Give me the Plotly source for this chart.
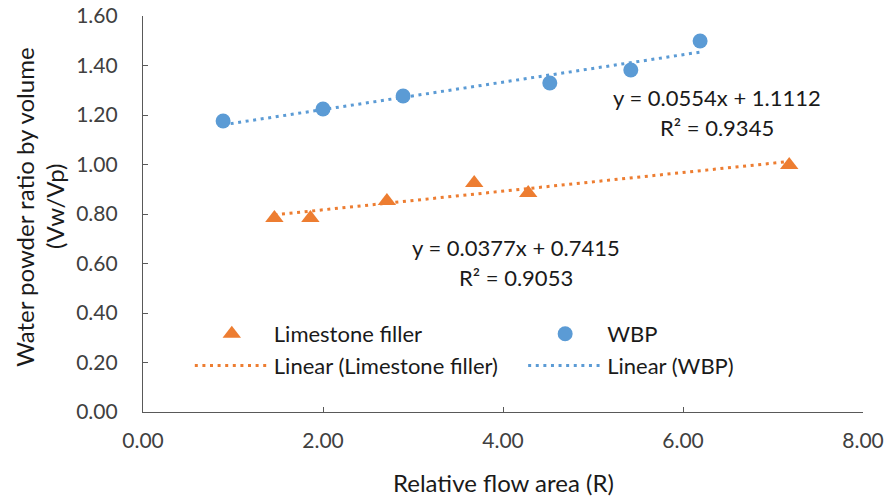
import plotly.graph_objects as go

# Data
lime_x = [1.46, 1.86, 2.71, 3.68, 4.28, 7.18]
lime_y = [0.784, 0.784, 0.853, 0.925, 0.885, 0.998]
wbp_x = [0.89, 2.00, 2.89, 4.52, 5.42, 6.19]
wbp_y = [1.176, 1.224, 1.277, 1.329, 1.382, 1.499]

# Trendline equations shown on the chart
lime_slope, lime_icpt = 0.0377, 0.7415
wbp_slope, wbp_icpt = 0.0554, 1.1112

x_ticks = [0, 2, 4, 6, 8]
y_ticks = [0, 0.2, 0.4, 0.6, 0.8, 1.0, 1.2, 1.4, 1.6]

ORANGE = "#ED7D31"
BLUE = "#5B9BD5"
FONT = "Lato"
TXT = "#404040"
DARK = "#1a1a1a"

lime_tx = [min(lime_x), max(lime_x)]
lime_ty = [lime_slope * v + lime_icpt for v in lime_tx]
wbp_tx = [min(wbp_x), max(wbp_x)]
wbp_ty = [wbp_slope * v + wbp_icpt for v in wbp_tx]

fig = go.Figure()
dash = "3px,4.6px"
fig.add_trace(go.Scatter(x=lime_tx, y=lime_ty, mode="lines", name="Linear (Limestone filler)",
                         line=dict(color=ORANGE, width=3, dash=dash), legend="legend",
                         legendrank=2, legendgroup="b"))
fig.add_trace(go.Scatter(x=wbp_tx, y=wbp_ty, mode="lines", name="Linear (WBP)",
                         line=dict(color=BLUE, width=3, dash=dash), legend="legend2",
                         legendrank=2, legendgroup="d"))
fig.add_trace(go.Scatter(x=lime_x, y=lime_y, mode="markers", name="Limestone filler",
                         marker=dict(symbol="triangle-up", size=16, color=ORANGE), legend="legend",
                         legendrank=1, legendgroup="a"))
fig.add_trace(go.Scatter(x=wbp_x, y=wbp_y, mode="markers", name="WBP",
                         marker=dict(symbol="circle", size=15, color=BLUE), legend="legend2",
                         legendrank=1, legendgroup="c"))

axis_common = dict(
    showgrid=False, zeroline=False, showline=True, linecolor="#595959", linewidth=1.3,
    ticks="inside", ticklen=5, tickcolor="#595959", tickwidth=1.3, automargin=False,
    tickfont=dict(family=FONT, size=21, color=TXT), tickformat=".2f",
)
fig.update_xaxes(range=[0, 8], tickvals=x_ticks, ticklabelstandoff=10, **axis_common)
fig.update_yaxes(range=[0, 1.6], tickvals=y_ticks, ticklabelstandoff=20, **axis_common)

# equations
ann_font = dict(family=FONT, size=22, color=DARK)
fig.add_annotation(x=6.38, y=1.272, text="y = 0.0554x + 1.1112", showarrow=False, font=ann_font)
fig.add_annotation(x=6.38, y=1.150, text="R² = 0.9345", showarrow=False, font=ann_font)
fig.add_annotation(x=4.14, y=0.666, text="y = 0.0377x + 0.7415", showarrow=False, font=ann_font)
fig.add_annotation(x=4.14, y=0.544, text="R² = 0.9053", showarrow=False, font=ann_font)

# axis titles
title_font = dict(family=FONT, size=24, color=DARK)
fig.add_annotation(xref="paper", yref="paper", x=0.5, y=-0.179, yanchor="middle",
                   text="Relative flow area (R)", showarrow=False, font=title_font)
fig.add_annotation(xref="paper", yref="paper", x=-0.164, xanchor="center", y=0.518,
                   text="Water powder ratio by volume", textangle=-90, showarrow=False, font=title_font)
fig.add_annotation(xref="paper", yref="paper", x=-0.122, xanchor="center", y=0.518,
                   text="(Vw/Vp)", textangle=-90, showarrow=False, font=title_font)

leg_common = dict(font=dict(family=FONT, size=22, color=DARK), bgcolor="rgba(0,0,0,0)",
                  traceorder="grouped", tracegroupgap=0, itemwidth=74,
                  xanchor="left", yanchor="top", orientation="v")
fig.update_layout(
    width=887, height=497,
    margin=dict(l=143, r=24, t=16, b=85, autoexpand=False),
    paper_bgcolor="white", plot_bgcolor="white",
    showlegend=True,
    legend=dict(x=0.065, y=0.25, **leg_common),
    legend2=dict(x=0.528, y=0.25, **leg_common),
)

fig.write_html("out.html")
